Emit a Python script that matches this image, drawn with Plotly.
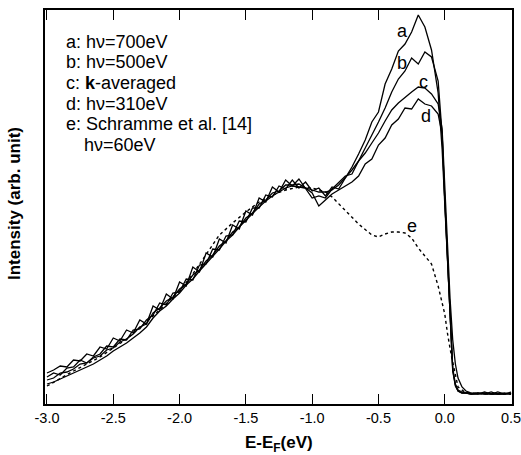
import plotly.graph_objects as go

# ---------------- data ----------------
x_main = [-3.00, -2.95, -2.90, -2.85, -2.80, -2.75, -2.70, -2.65, -2.60, -2.55,
          -2.50, -2.45, -2.40, -2.35, -2.30, -2.25, -2.20, -2.15, -2.10, -2.05,
          -2.00, -1.95, -1.90, -1.85, -1.80, -1.75, -1.70, -1.65, -1.60, -1.55,
          -1.50, -1.45, -1.40, -1.35, -1.30, -1.25, -1.20, -1.15, -1.10, -1.05,
          -1.00, -0.95, -0.90, -0.85, -0.80, -0.75, -0.70,
          -0.65, -0.60, -0.55, -0.50, -0.45, -0.40, -0.35, -0.30, -0.25, -0.20,
          -0.15, -0.10, -0.05, -0.02, 0.00, 0.02, 0.04, 0.06, 0.08, 0.10,
          0.13, 0.16, 0.20, 0.25, 0.30, 0.35, 0.40, 0.45, 0.50]

curve_a = [27, 31, 29, 36, 37, 44, 41, 47, 50, 58, 57, 65, 64, 74, 75, 84,
           89, 101, 99, 111, 112, 125, 124, 139, 140, 155, 154, 168, 169, 183, 182, 196, 196, 209, 207, 218,
           215, 224, 216, 222, 213,
           216, 208, 217, 215, 226, 237,
           250, 264, 282, 292, 320, 335, 353, 360, 372, 389,
           377, 354, 311, 255, 200, 140, 82, 36, 20, 14,
           12, 11, 10, 11, 10, 12, 10, 10, 12]

curve_b = [31, 34, 38, 37, 44, 43, 50, 48, 57, 55, 66, 63, 74, 71, 84, 80,
           98, 94, 110, 105, 122, 118, 137, 132, 151, 147, 165, 161, 179, 175, 193, 189, 206, 202, 217, 212,
           224, 218, 225, 215, 206,
           208, 206, 215, 222, 228, 230,
           243, 255, 268, 282, 296, 312, 325, 333, 346, 340,
           352, 347, 323, 270, 204, 144, 84, 34, 19, 13,
           11, 11, 10, 10, 12, 10, 10, 10, 11]

curve_c = [20, 22, 25, 28, 31, 34, 37, 40, 44, 48, 53, 57, 61, 66, 71, 77,
           86, 93, 98, 105, 111, 119, 125, 133, 140, 148, 155, 163, 169, 177, 184, 190, 197, 203, 208, 212,
           216, 218, 217, 216, 214,
           212, 212, 214, 219, 226, 234,
           243, 251, 261, 271, 283, 294, 301, 307, 312, 317,
           316, 310, 300, 275, 215, 160, 105, 64, 40, 26,
           17, 13, 11, 10, 11, 10, 10, 11, 10]

curve_d = [24, 26, 31, 32, 35, 40, 41, 46, 48, 54, 56, 62, 65, 70, 77, 80,
           91, 96, 103, 107, 115, 120, 129, 134, 143, 149, 158, 163, 172, 177, 186, 191, 200, 204, 211, 213,
           219, 219, 220, 216, 211,
           198, 204, 210, 214, 218, 222,
           228, 240, 245, 259, 266, 279, 285, 296, 295, 305,
           300, 298, 290, 270, 205, 146, 84, 33, 18, 13,
           11, 11, 10, 11, 10, 10, 12, 10, 10]

x_e = [-3.0, -2.8, -2.6, -2.4, -2.2, -2.0, -1.9, -1.8, -1.7, -1.6, -1.5, -1.4, -1.3, -1.2, -1.1,
       -1.0, -0.9, -0.85, -0.75, -0.65, -0.55, -0.5, -0.45, -0.4, -0.35, -0.3, -0.25, -0.2, -0.15,
       -0.1, -0.05, 0.0, 0.02, 0.05, 0.1, 0.15, 0.2, 0.3, 0.4, 0.5]
curve_e = [18, 33, 47, 65, 88, 113, 130, 150, 169, 181, 192, 202, 209, 214, 217,
           216, 212, 207, 194, 180, 169, 167, 170, 172, 172, 171, 166, 156, 148,
           140, 118, 90, 71, 48, 17, 12, 11, 10, 10, 10]

legend_lines = ["a: hν=700eV", "b: hν=500eV", "c: <b>k</b>-averaged", "d: hν=310eV",
                "e: Schramme et al. [14]", "hν=60eV"]

tick_vals = [-3.0, -2.5, -2.0, -1.5, -1.0, -0.5, 0.0, 0.5]
tick_text = ["-3.0", "-2.5", "-2.0", "-1.5", "-1.0", "-0.5", "0.0", "0.5"]

curve_labels = [("a", -0.32, 373), ("b", -0.32, 341), ("c", -0.16, 322), ("d", -0.14, 288), ("e", -0.25, 178)]

# ---------------- figure ----------------
FONT = "Liberation Sans, Arial, sans-serif"
fig = go.Figure()
for y in (curve_a, curve_b, curve_c, curve_d):
    fig.add_trace(go.Scatter(x=x_main, y=y, mode="lines",
                             line=dict(color="black", width=1.3), showlegend=False))
fig.add_trace(go.Scatter(x=x_e, y=curve_e, mode="lines",
                         line=dict(color="black", width=1.4, dash="3px,3px"),
                         showlegend=False))

for lab, lx, ly in curve_labels:
    fig.add_annotation(x=lx, y=ly, text=lab, showarrow=False,
                       font=dict(family=FONT, size=18, color="black"))

for i, t in enumerate(legend_lines):
    fig.add_annotation(xref="paper", yref="paper",
                       x=(64 - 45) / 467 if i < 5 else (82 - 45) / 467,
                       y=1 - (32 + 20.5 * i) / 394,
                       text=t, showarrow=False, xanchor="left", yanchor="middle",
                       font=dict(family=FONT, size=18, color="black"))

fig.add_annotation(xref="paper", yref="paper", x=(279 - 45) / 467, y=-(444 - 404) / 394,
                   text="<b>E-E<sub>F</sub>(eV)</b>", showarrow=False,
                   xanchor="center", yanchor="middle",
                   font=dict(family=FONT, size=17, color="black"))
fig.add_annotation(xref="paper", yref="paper", x=-(45 - 14) / 467, y=(404 - 204) / 394,
                   text="<b>Intensity (arb. unit)</b>", showarrow=False, textangle=-90,
                   xanchor="center", yanchor="middle",
                   font=dict(family=FONT, size=17, color="black"))

fig.update_layout(
    width=521, height=455,
    margin=dict(l=45, r=9, t=10, b=51),
    paper_bgcolor="white", plot_bgcolor="white",
    font=dict(family=FONT, size=15, color="black"),
    showlegend=False,
    xaxis=dict(range=[-3.015, 0.507], tickvals=tick_vals, ticktext=tick_text,
               ticks="inside", ticklen=10, tickwidth=1.3, tickcolor="black",
               showline=True, linecolor="black", linewidth=2, mirror="allticks",
               showgrid=False, zeroline=False, tickfont=dict(size=14.5),
               automargin=False, ticklabeloverflow="allow"),
    yaxis=dict(range=[0, 394], showticklabels=False, ticks="",
               showline=True, linecolor="black", linewidth=2, mirror=True,
               showgrid=False, zeroline=False, automargin=False),
)

fig.write_html("out.html", config={"displayModeBar": False},
               post_script="document.body.style.margin='0';")
